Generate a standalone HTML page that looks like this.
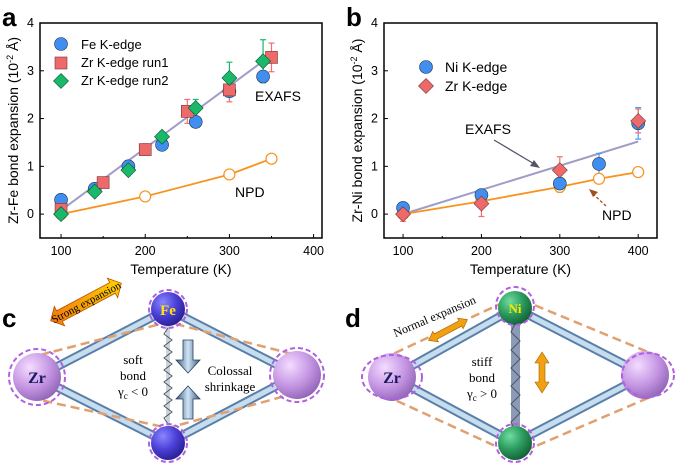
<!DOCTYPE html>
<html><head><meta charset="utf-8"><style>
html,body{margin:0;padding:0;background:#fff;width:675px;height:468px;overflow:hidden}
svg{display:block;font-family:"Liberation Sans",sans-serif}
.serif{font-family:"Liberation Serif",serif}
</style></head><body>
<svg id="fig" width="675" height="468" viewBox="0 0 675 468">
<defs>
<radialGradient id="gZr" cx="0.35" cy="0.3" r="0.8"><stop offset="0" stop-color="#f4dcff"/><stop offset="0.5" stop-color="#c89ae6"/><stop offset="1" stop-color="#8a5cb0"/></radialGradient>
<radialGradient id="gFe" cx="0.35" cy="0.3" r="0.8"><stop offset="0" stop-color="#8a86ff"/><stop offset="0.5" stop-color="#4a3fd6"/><stop offset="1" stop-color="#241a88"/></radialGradient>
<radialGradient id="gNi" cx="0.35" cy="0.3" r="0.8"><stop offset="0" stop-color="#6fdca0"/><stop offset="0.5" stop-color="#2a9a5c"/><stop offset="1" stop-color="#0f5530"/></radialGradient>
<linearGradient id="gArr" x1="0" x2="1"><stop offset="0" stop-color="#f07a10"/><stop offset="1" stop-color="#ffd000"/></linearGradient>
<linearGradient id="gBlue" x1="0" x2="1"><stop offset="0" stop-color="#3a5a80"/><stop offset="0.5" stop-color="#d0e4f4"/><stop offset="1" stop-color="#3a5a80"/></linearGradient>
</defs>
<g id="chartA"></g>
<g id="chartB"></g>

<!-- panel c -->
<g>
<text x="2" y="327" font-size="26" font-weight="bold">c</text>
<g stroke="#5a7fa8" stroke-width="9" stroke-linecap="round">
<line x1="37" y1="377" x2="168" y2="309"/><line x1="37" y1="377" x2="168" y2="443"/><line x1="168" y1="309" x2="297" y2="375"/><line x1="168" y1="443" x2="297" y2="375"/></g>
<g stroke="#c6ddef" stroke-width="5" stroke-linecap="round">
<line x1="37" y1="377" x2="168" y2="309"/><line x1="37" y1="377" x2="168" y2="443"/><line x1="168" y1="309" x2="297" y2="375"/><line x1="168" y1="443" x2="297" y2="375"/></g>
<polygon points="40,355 168,322 300,356 300,392 168,428 40,400" fill="none" stroke="#e0a070" stroke-width="2.5" stroke-dasharray="9,5"/>
<line x1="168" y1="325" x2="168" y2="428" stroke="#c8d4e0" stroke-width="4"/>
<polyline points="168,328 164,334 172,340 164,346 172,352 164,358 172,364 164,370 172,376 164,382 172,388 164,394 172,400 164,406 172,412 164,418 168,424" fill="none" stroke="#555" stroke-width="1"/>
<circle cx="37" cy="377" r="24" fill="url(#gZr)"/><circle cx="37" cy="377" r="28" fill="none" stroke="#b060e0" stroke-width="2" stroke-dasharray="5,3"/>
<circle cx="297" cy="375" r="24" fill="url(#gZr)"/><circle cx="297" cy="375" r="27" fill="none" stroke="#b060e0" stroke-width="2" stroke-dasharray="5,3"/>
<circle cx="168" cy="309" r="17" fill="url(#gFe)"/><circle cx="168" cy="309" r="19" fill="none" stroke="#b060e0" stroke-width="2" stroke-dasharray="5,3"/>
<circle cx="168" cy="443" r="17" fill="url(#gFe)"/><circle cx="168" cy="443" r="19" fill="none" stroke="#b060e0" stroke-width="2" stroke-dasharray="5,3"/>
<text x="37" y="383" font-size="16" font-weight="bold" fill="#1a1a60" text-anchor="middle" class="serif">Zr</text>
<text x="168" y="315" font-size="15" font-weight="bold" fill="#ffe800" text-anchor="middle" class="serif">Fe</text>
<text x="133" y="364" font-size="13" text-anchor="middle" class="serif"><tspan x="133">soft</tspan><tspan x="133" dy="16">bond</tspan><tspan x="133" dy="16">γ<tspan font-size="9" dy="3">c</tspan><tspan dy="-3"> &lt; 0</tspan></tspan></text>
<polygon points="183,340 193,340 193,360 200,360 188,373 176,360 183,360" fill="url(#gBlue)" stroke="#2a4060" stroke-width="0.8"/>
<polygon points="183,419 193,419 193,399 200,399 188,386 176,399 183,399" fill="url(#gBlue)" stroke="#2a4060" stroke-width="0.8"/>
<text x="230" y="375" font-size="13" text-anchor="middle" class="serif"><tspan x="230">Colossal</tspan><tspan x="230" dy="16">shrinkage</tspan></text>
<g transform="translate(86,302) rotate(-28)">
<polygon points="-40,0 -30,-11 -30,-6 30,-6 30,-11 40,0 30,11 30,6 -30,6 -30,11" fill="url(#gArr)" stroke="#c05000" stroke-width="0.8"/>
<text x="0" y="4" font-size="11" text-anchor="middle" class="serif">Strong expansion</text></g>
</g>

<!-- panel d -->
<g>
<text x="345" y="327" font-size="26" font-weight="bold">d</text>
<polygon points="395,353 515,297 648,352 648,398 515,455 395,400" fill="none" stroke="#e0a070" stroke-width="2.5" stroke-dasharray="9,5"/>
<g stroke="#5a7fa8" stroke-width="9" stroke-linecap="round">
<line x1="392" y1="377" x2="515" y2="308"/><line x1="392" y1="377" x2="515" y2="443"/><line x1="515" y1="308" x2="645" y2="375"/><line x1="515" y1="443" x2="645" y2="375"/></g>
<g stroke="#c6ddef" stroke-width="5" stroke-linecap="round">
<line x1="392" y1="377" x2="515" y2="308"/><line x1="392" y1="377" x2="515" y2="443"/><line x1="515" y1="308" x2="645" y2="375"/><line x1="515" y1="443" x2="645" y2="375"/></g>
<rect x="511" y="322" width="9" height="110" fill="#8a9ab8"/>
<polyline points="515,324 511,332 520,341 511,350 520,359 511,368 520,377 511,386 520,395 511,404 520,413 511,422 515,430" fill="none" stroke="#555" stroke-width="1"/>
<circle cx="392" cy="377" r="24" fill="url(#gZr)"/><ellipse cx="392" cy="377" rx="30" ry="22" fill="none" stroke="#b060e0" stroke-width="2" stroke-dasharray="5,3"/>
<circle cx="645" cy="375" r="24" fill="url(#gZr)"/><ellipse cx="648" cy="375" rx="26" ry="22" fill="none" stroke="#b060e0" stroke-width="2" stroke-dasharray="5,3"/>
<circle cx="515" cy="308" r="17" fill="url(#gNi)"/><circle cx="515" cy="306" r="19" fill="none" stroke="#b060e0" stroke-width="2" stroke-dasharray="5,3"/>
<circle cx="515" cy="443" r="17" fill="url(#gNi)"/><circle cx="515" cy="443" r="19" fill="none" stroke="#b060e0" stroke-width="2" stroke-dasharray="5,3"/>
<text x="392" y="383" font-size="16" font-weight="bold" fill="#1a1a60" text-anchor="middle" class="serif">Zr</text>
<text x="515" y="313" font-size="13" font-weight="bold" fill="#ffe800" text-anchor="middle" class="serif">Ni</text>
<text x="482" y="366" font-size="13" text-anchor="middle" class="serif"><tspan x="482">stiff</tspan><tspan x="482" dy="16">bond</tspan><tspan x="482" dy="16">γ<tspan font-size="9" dy="3">c</tspan><tspan dy="-3"> &gt; 0</tspan></tspan></text>
<polygon points="542,352 549,363 545,363 545,382 549,382 542,393 535,382 539,382 539,363 535,363" fill="#f0a010" stroke="#a06000" stroke-width="0.6"/>
<polygon transform="translate(448,330) rotate(-28)" points="-22,0 -14,-6 -14,-3 14,-3 14,-6 22,0 14,6 14,3 -14,3 -14,6" fill="#f0a010" stroke="#a06000" stroke-width="0.6"/>
<text transform="translate(436,320) rotate(-23)" font-size="12" text-anchor="middle" class="serif">Normal expansion</text>
</g>
</svg>
<script>
const NS="http://www.w3.org/2000/svg";
// panel a data
const aFeT=[100,140,180,220,260,300,340];
const aFeV=[0.3,0.53,1.0,1.45,1.93,2.57,2.88];
const aFeE=[0,0.05,0.1,0.05,0.1,0.1,0.12];
const aR1T=[100,150,200,250,300,350];
const aR1V=[0.1,0.66,1.35,2.15,2.6,3.28];
const aR1E=[0,0.05,0.12,0.25,0.25,0.3];
const aR2T=[100,140,180,220,260,300,340];
const aR2V=[0,0.47,0.92,1.62,2.22,2.85,3.2];
const aR2E=[0,0,0,0.1,0.18,0.33,0.45];
const aNpdT=[100,200,300,350];
const aNpdV=[0,0.37,0.83,1.16];
const aFitT=[100,340];
const aFitV=[0.08,3.2];
// panel b data
const bNiT=[100,200,300,350,400];
const bNiV=[0.13,0.4,0.64,1.05,1.9];
const bNiE=[0.05,0.08,0.18,0.22,0.33];
const bZrT=[100,200,300,400];
const bZrV=[0,0.22,0.92,1.95];
const bZrE=[0.15,0.27,0.28,0.25];
const bNpdT=[100,200,300,350,400];
const bNpdV=[0,0.27,0.57,0.74,0.88];
const bFitT=[100,400];
const bFitV=[0,1.52];
const xTicks=[100,200,300,400];
const yTicks=[0,1,2,3,4];

function el(tag,attrs,parent){const e=document.createElementNS(NS,tag);for(const k in attrs)e.setAttribute(k,attrs[k]);parent.appendChild(e);return e;}
function axes(g,L,R,T,B,x0,x1,title,label){
  const sx=v=>L+(v-x0)/(x1-x0)*(R-L);
  const sy=v=>B-(v+0.5)/4.5*(B-T);
  const box=el('rect',{x:L,y:T,width:R-L,height:B-T,fill:'none',stroke:'#000','stroke-width':1.5},g);
  
  
  xTicks.forEach(t=>{el('line',{x1:sx(t),x2:sx(t),y1:B,y2:B-4,stroke:'#000'},g);
    const tx=el('text',{x:sx(t),y:B+17,'font-size':12.5,'text-anchor':'middle'},g);tx.textContent=t;
    
    });
  [150,250,350].forEach(t=>el('line',{x1:sx(t),x2:sx(t),y1:B,y2:B-2,stroke:'#000'},g));
  yTicks.forEach(t=>{el('line',{x1:L,x2:L+4,y1:sy(t),y2:sy(t),stroke:'#000'},g);
    const tx=el('text',{x:L-6,y:sy(t)+4,'font-size':12.5,'text-anchor':'end'},g);tx.textContent=t;
    
    });
  const xt=el('text',{x:(L+R)/2,y:B+36,'font-size':14,'text-anchor':'middle'},g);xt.textContent='Temperature (K)';
  
  
  const yt=el('text',{transform:`translate(${L-22},${(T+B)/2}) rotate(-90)`,'font-size':14,'text-anchor':'middle'},g);
  yt.innerHTML=title+'  (10<tspan font-size="9" dy="-5">-2</tspan><tspan dy="5"> Å)</tspan>';
  
  
  const pl=el('text',{x:L-38,y:T+3,'font-size':26,'font-weight':'bold'},g);pl.textContent=label;
  
  
  return [sx,sy];
}
function line(g,sx,sy,T,V,color,w,name){
  const p=el('polyline',{points:T.map((t,i)=>sx(t)+','+sy(V[i])).join(' '),fill:'none',stroke:color,'stroke-width':w},g);
  
  
}
function errs(g,sx,sy,T,V,E,color){
  T.forEach((t,i)=>{if(!E[i])return;const x=sx(t);
    el('line',{x1:x,x2:x,y1:sy(V[i]-E[i]),y2:sy(V[i]+E[i]),stroke:color,'stroke-width':1.2},g);
    el('line',{x1:x-3,x2:x+3,y1:sy(V[i]+E[i]),y2:sy(V[i]+E[i]),stroke:color,'stroke-width':1.2},g);
    el('line',{x1:x-3,x2:x+3,y1:sy(V[i]-E[i]),y2:sy(V[i]-E[i]),stroke:color,'stroke-width':1.2},g);});
}
function marker(g,kind,x,y,name){
  let m;
  if(kind==='c')m=el('circle',{cx:x,cy:y,r:6.5,fill:'#3f8ef0',stroke:'#234',"stroke-width":0.6},g);
  else if(kind==='s')m=el('rect',{x:x-6,y:y-6,width:12,height:12,fill:'#ee6a6a',stroke:'#733','stroke-width':0.6},g);
  else if(kind==='dg')m=el('polygon',{points:`${x},${y-7.5} ${x+7.5},${y} ${x},${y+7.5} ${x-7.5},${y}`,fill:'#1bb86a',stroke:'#053','stroke-width':0.6},g);
  else if(kind==='dr')m=el('polygon',{points:`${x},${y-7.5} ${x+7.5},${y} ${x},${y+7.5} ${x-7.5},${y}`,fill:'#ee6a6a',stroke:'#733','stroke-width':0.6},g);
  else m=el('circle',{cx:x,cy:y,r:5.5,fill:'#fff',stroke:'#f7931e','stroke-width':1.2},g);
  
  
}
function pts(g,sx,sy,T,V,kind,name){T.forEach((t,i)=>marker(g,kind,sx(t),sy(V[i]),name));}
function txt(g,x,y,s,size,name){const t=el('text',{x:x,y:y,'font-size':size},g);t.textContent=s;
  
  }

// Panel A
(function(){
  const g=document.getElementById('chartA');
  const [sx,sy]=axes(g,40,322,23,238,75,410,'Zr-Fe bond expansion','a');
  line(g,sx,sy,aFitT,aFitV,'#a09cc8',2,'exafs-fit-line');
  line(g,sx,sy,aNpdT,aNpdV,'#f7931e',1.8,'npd-line');
  errs(g,sx,sy,aFeT,aFeV,aFeE,'#4a9af5');
  errs(g,sx,sy,aR1T,aR1V,aR1E,'#f07070');
  errs(g,sx,sy,aR2T,aR2V,aR2E,'#1bb86a');
  pts(g,sx,sy,aNpdT,aNpdV,'o','npd-point');
  pts(g,sx,sy,aFeT,aFeV,'c','fe-kedge-point');
  pts(g,sx,sy,aR1T,aR1V,'s','zr-run1-point');
  pts(g,sx,sy,aR2T,aR2V,'dg','zr-run2-point');
  marker(g,'c',61,44,'legend-fe-marker');txt(g,81,49,'Fe K-edge',13,'legend-fe');
  marker(g,'s',61,63,'legend-run1-marker');txt(g,81,67,'Zr K-edge run1',13,'legend-run1');
  marker(g,'dg',61,81,'legend-run2-marker');txt(g,81,85,'Zr K-edge run2',13,'legend-run2');
  txt(g,255,101,'EXAFS',14,'exafs-label');
  txt(g,235,197,'NPD',14,'npd-label');
})();
// Panel B
(function(){
  const g=document.getElementById('chartB');
  const [sx,sy]=axes(g,384,657,23,238,75.7,424,'Zr-Ni bond expansion','b');
  line(g,sx,sy,bFitT,bFitV,'#a09cc8',2,'exafs-fit-line');
  line(g,sx,sy,bNpdT,bNpdV,'#f7931e',1.8,'npd-line');
  errs(g,sx,sy,bNiT,bNiV,bNiE,'#4a9af5');
  errs(g,sx,sy,bZrT,bZrV,bZrE,'#f07070');
  pts(g,sx,sy,bNpdT,bNpdV,'o','npd-point');
  pts(g,sx,sy,bNiT,bNiV,'c','ni-kedge-point');
  pts(g,sx,sy,bZrT,bZrV,'dr','zr-kedge-point');
  marker(g,'c',426,67,'legend-ni-marker');txt(g,445,72,'Ni K-edge',14,'legend-ni');
  marker(g,'dr',426,86,'legend-zr-marker');txt(g,445,91,'Zr K-edge',14,'legend-zr');
  txt(g,465,134,'EXAFS',14,'exafs-label');
  txt(g,602,220,'NPD',14,'npd-label');
  el('line',{x1:494,y1:140,x2:536,y2:165,stroke:'#556',"stroke-width":1.3},g);
  el('polygon',{points:'540,168 530,166 534,160',fill:'#556'},g);
  el('line',{x1:606,y1:206,x2:592,y2:193,stroke:'#a05020',"stroke-width":1.3,"stroke-dasharray":'3,2'},g);
  el('polygon',{points:'589,189 598,192 593,197',fill:'#a05020'},g);
})();
</script>
</body></html>
